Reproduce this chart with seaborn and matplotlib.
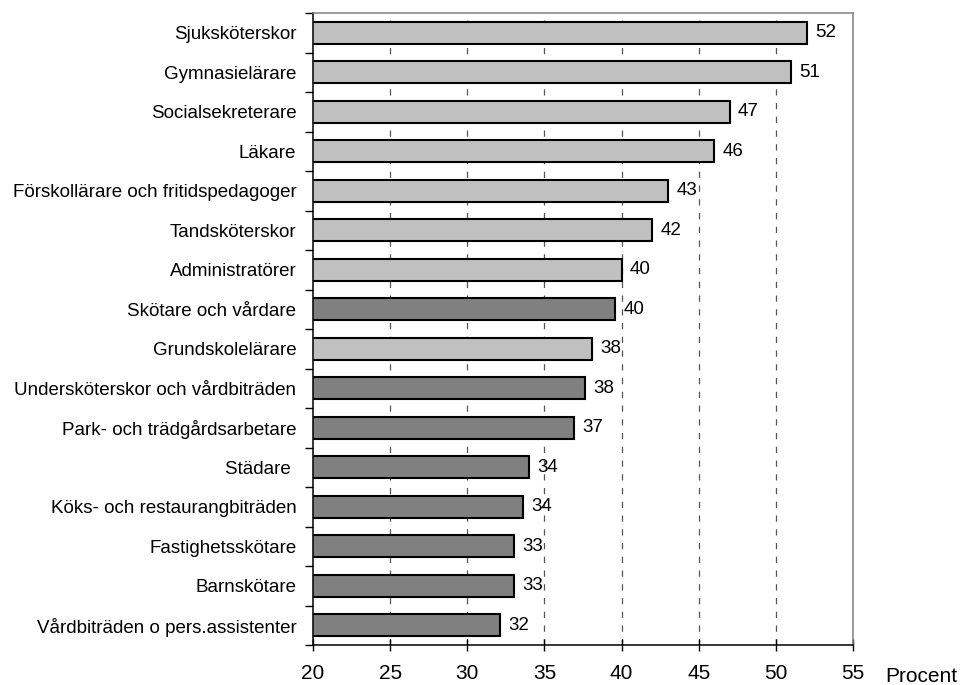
import numpy as np
import pandas as pd
import seaborn as sns
import matplotlib.pyplot as plt
from matplotlib.ticker import FixedLocator

# Data
categories = [
    "Sjuksköterskor", "Gymnasielärare", "Socialsekreterare", "Läkare",
    "Förskollärare och fritidspedagoger", "Tandsköterskor", "Administratörer",
    "Skötare och vårdare", "Grundskolelärare", "Undersköterskor och vårdbiträden",
    "Park- och trädgårdsarbetare", "Städare ", "Köks- och restaurangbiträden",
    "Fastighetsskötare", "Barnskötare", "Vårdbiträden o pers.assistenter",
]
values = [52.0, 51.0, 47.0, 46.0, 43.0, 42.0, 40.0, 39.6, 38.1, 37.6, 36.9, 34.0, 33.6, 33.0, 33.0, 32.1]
groups = ["light"] * 7 + ["dark"] + ["light"] + ["dark"] * 7
x_ticks = [20, 25, 30, 35, 40, 45, 50, 55]

df = pd.DataFrame({"yrke": categories, "procent": values, "grupp": groups})

sns.set_style("white")
plt.rcParams["font.family"] = ["Liberation Sans", "DejaVu Sans"]
plt.rcParams["text.color"] = "black"
plt.rcParams["xtick.color"] = "black"
plt.rcParams["ytick.color"] = "black"

fig = plt.figure(figsize=(9.6, 6.85), dpi=100)
ax = fig.add_axes([313 / 960, 1 - 645 / 685, 540 / 960, 632 / 685])

sns.barplot(data=df, x="procent", y="yrke", hue="grupp", orient="h",
            palette={"light": "#C0C0C0", "dark": "#808080"}, dodge=False,
            width=0.56, edgecolor="black", linewidth=1.5, legend=False, ax=ax)

# dashed gridlines at inner x ticks
for xv in x_ticks[1:-1]:
    ax.axvline(xv, color="#555555", linestyle=(0, (5, 6)), linewidth=0.9, zorder=0)

for cont in ax.containers:
    labels = ["" if np.isnan(w) else f"{w:.0f}" for w in cont.datavalues]
    ax.bar_label(cont, labels=labels, padding=6, fontsize=13.5, color="black")

ax.set_xlim(20, 55)
ax.set_ylim(len(categories) - 0.5, -0.5)
ax.set_xticks(x_ticks)
ax.set_xticklabels([str(v) for v in x_ticks], fontsize=15)
ax.set_xlabel("")
ax.set_ylabel("")
ax.tick_params(axis="x", direction="inout", length=8, width=1, pad=10, bottom=True)

ax.set_yticks(range(len(categories)))
ax.set_yticklabels(categories, fontsize=13.5)
ax.tick_params(axis="y", which="major", length=0, pad=12)
ax.yaxis.set_minor_locator(FixedLocator(np.arange(-0.5, len(categories), 1.0)))
ax.tick_params(axis="y", which="minor", left=True, direction="out", length=6, width=1)

for side in ["left", "bottom"]:
    ax.spines[side].set_color("black")
    ax.spines[side].set_linewidth(1.1)
for side in ["top", "right"]:
    ax.spines[side].set_color("#808080")
    ax.spines[side].set_linewidth(1.1)

fig.text(885 / 960, 1 - 676 / 685, "Procent", fontsize=15, va="center", ha="left")

fig.savefig("out.png", dpi=100)
